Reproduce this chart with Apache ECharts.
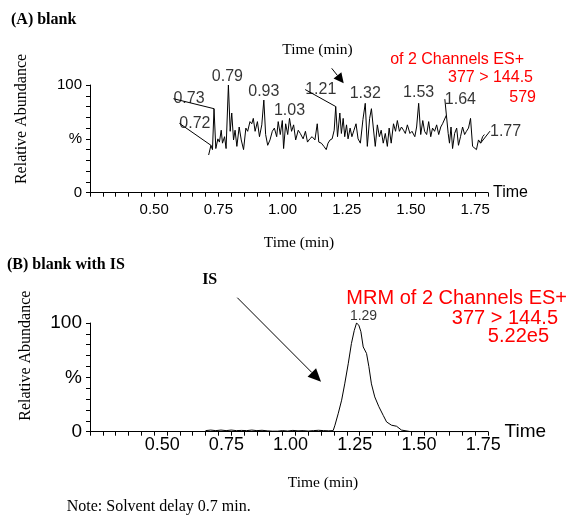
<!DOCTYPE html>
<html><head><meta charset="utf-8">
<script src="https://cdn.jsdelivr.net/npm/echarts@6/dist/echarts.min.js"></script>
<style>html,body{margin:0;padding:0;background:#fff}#c{width:571px;height:516px}</style>
</head><body><div id="c"></div>
<script>
// ---- Panel A: blank (noise trace) ----
const timesA = [
0.712,0.721,0.727,0.733,0.740,0.748,0.754,0.761,0.766,0.774,0.780,0.789,0.796,0.802,0.809,0.815,0.822,0.831,0.839,0.848,
0.857,0.864,0.873,0.880,0.886,0.893,0.902,0.910,0.919,0.927,0.934,0.942,0.951,0.960,0.968,0.977,0.983,0.991,0.999,1.004,
1.012,1.020,1.027,1.035,1.043,1.051,1.061,1.069,
1.080,1.089,1.097,1.106,1.115,1.126,1.135,1.141,1.151,1.161,1.170,1.177,1.185,1.193,1.201,1.207,1.214,1.223,1.229,1.236,
1.242,1.249,1.255,1.263,1.270,1.278,1.286,1.294,1.303,1.313,1.322,1.330,1.339,1.346,1.353,1.361,1.369,1.377,1.384,1.392,
1.400,1.408,1.415,1.423,
1.432,1.440,1.447,1.455,1.463,1.471,1.478,1.486,1.496,1.504,1.515,1.522,1.530,1.538,1.546,1.553,1.561,1.569,1.577,1.584,
1.592,1.600,1.608,1.616,1.623,1.638,1.645,1.650,1.656,1.662,1.670,1.678,1.685,1.693,1.701,1.709,1.716,1.724,1.732,1.740,
1.747,1.755,1.763,1.771,1.779,1.786];
const valuesA = [
35,44,40,78,41,50,47,58,46,52,41,100,57,74,49,58,43,61,49,40,
60,57,66,64,69,57,66,52,63,86,54,44,49,57,60,52,66,54,67,41,
64,54,69,57,63,49,58,55,
50,57,47,50,52,49,64,47,46,43,40,46,49,50,58,80,52,74,55,69,
52,63,50,60,52,58,64,50,46,68,83,43,69,78,61,43,63,52,58,46,
55,43,60,46,
64,57,67,57,61,58,55,63,55,57,52,61,83,54,67,57,54,66,52,60,
57,63,54,61,64,72,55,46,61,41,55,60,44,52,61,54,57,60,69,43,
44,40,49,46,52,54];
const peakTimesA = [0.721,0.733,0.789,0.927,1.027,1.207,1.322,1.530,1.638,1.771];

// ---- Panel B: blank with IS ----
const timesB = [
0.70,0.72,0.74,0.76,0.78,0.80,0.82,0.84,0.86,0.88,0.90,0.92,0.94,0.96,0.98,1.00,1.02,1.04,1.06,1.08,
1.10,1.12,1.14,1.16,1.180,1.197,1.204,1.217,1.230,1.242,1.256,1.268,1.279,1.288,1.297,1.305,1.314,1.327,1.336,1.346,
1.359,1.375,1.392,1.405,1.424,1.444,1.463,1.470,1.50,1.55,1.60,1.65,1.70,1.75,1.79];
const valuesB = [
1,1.5,1,1.5,1,1.5,1,1.2,1,1.5,1,1.3,0.8,0.5,0.5,1,0.6,1.2,0.8,1,
0.6,1,1.3,1,0.8,1,6,17,29,44,63,81,93,100,98,92,78,72,60,44,
32,23,15,9,6,5,1.5,0.3,0,0,0,0,0,0,0];
const peakTimesB = [1.288];

const xTickLabels = ['0.50','0.75','1.00','1.25','1.50','1.75'];
const yTickLabels = {0:'0', 50:'%', 100:'100'};

// ---- styling / layout ----
const SANS = 'Liberation Sans, Arial, sans-serif';
const SERIF = 'Liberation Serif, Times New Roman, serif';
const labelOffsA = [
  {dx:-16,dy:-14,line:true},{dx:-25,dy:-2,line:true},{dx:-1,dy:0},{dx:0,dy:0},{dx:0,dy:0},
  {dx:-15,dy:-9,line:true},{dx:0,dy:-2},{dx:0,dy:-3},{dx:14,dy:-8,line:true},{dx:25,dy:-4,line:true}];
const labelOffsB = [{dx:7,dy:0}];

function pairs(ts, vs){ return ts.map((t,i)=>[t, vs[i]]); }
function peakData(ts, vs, pk, offs){
  return pk.map((t,k)=>{ const i = ts.indexOf(t); return {value:[ts[i], vs[i]], labelLine:{show:!!offs[k].line}}; });
}
function xAxisCfg(gi, fs, pad, margin, nameGap){
  return {type:'value', gridIndex:gi, min:0.25, max:1.80, interval:0.05,
    axisLine:{show:true, onZero:false, lineStyle:{color:'#000', width:1}},
    axisTick:{show:true, length:4, lineStyle:{color:'#000'}},
    splitLine:{show:false},
    axisLabel:{show:true, margin:margin, color:'#000', fontFamily:SANS, fontSize:fs, padding:pad, hideOverlap:false,
      showMinLabel:true, showMaxLabel:true,
      formatter:v=>{ const s=(Math.round(v*100)/100).toFixed(2); return xTickLabels.indexOf(s)>=0 ? s : ''; }},
    name:'Time', nameLocation:'end', nameGap:nameGap,
    nameTextStyle:{color:'#000', fontFamily:SANS, fontSize:fs+1, verticalAlign:'middle', align:'left'}};
}
function yAxisCfg(gi, fs){
  return {type:'value', gridIndex:gi, min:0, max:100, interval:10,
    axisLine:{show:true, lineStyle:{color:'#000', width:1}},
    axisTick:{show:true, length:4, lineStyle:{color:'#000'}},
    splitLine:{show:false},
    axisLabel:{show:true, margin:8, color:'#000', fontFamily:SANS, fontSize:fs,
      formatter:v=>{ const r=Math.round(v); return yTickLabels[r] !== undefined ? yTickLabels[r] : ''; }}};
}
function txt(x,y,text,font,opts){
  opts = opts || {};
  return {type:'text', x:x, y:y, rotation:opts.rot||0, silent:true,
    style:{x:0,y:0,text:text, font:font, fill:opts.fill||'#000',
      textAlign:opts.align||'left', align:opts.align||'left',
      textVerticalAlign:'middle', verticalAlign:'middle'}};
}
function arrow(x1,y1,x2,y2,hl,hw,lw){
  const dx=x2-x1, dy=y2-y1, L=Math.hypot(dx,dy), ux=dx/L, uy=dy/L;
  const bx=x2-ux*hl, by=y2-uy*hl;
  return [
    {type:'line', silent:true, shape:{x1:x1,y1:y1,x2:bx,y2:by}, style:{stroke:'#000', lineWidth:lw}},
    {type:'polygon', silent:true, shape:{points:[[x2,y2],[bx-uy*hw,by+ux*hw],[bx+uy*hw,by-ux*hw]]}, style:{fill:'#000'}}
  ];
}

const chart = echarts.init(document.getElementById('c'), null, {renderer:'canvas'});
const option = {
  animation:false,
  backgroundColor:'#fff',
  grid:[
    {left:90, top:85, width:398, height:107.7, containLabel:false, outerBoundsMode:'none'},
    {left:90, top:323, width:398, height:108.7, containLabel:false, outerBoundsMode:'none'}
  ],
  xAxis:[ xAxisCfg(0, 15, [0,0,0,0], 10, 5), xAxisCfg(1, 18, [0,0,0,16], 4, 12) ],
  yAxis:[ yAxisCfg(0, 15), yAxisCfg(1, 19) ],
  series:[
    {type:'line', xAxisIndex:0, yAxisIndex:0, data:pairs(timesA, valuesA), showSymbol:false, symbol:'none',
      lineStyle:{color:'#000', width:1}, silent:true, z:2},
    {type:'scatter', xAxisIndex:0, yAxisIndex:0, data:peakData(timesA, valuesA, peakTimesA, labelOffsA),
      symbolSize:0, itemStyle:{color:'rgba(0,0,0,0)'}, silent:true, z:3,
      label:{show:true, position:'top', distance:0, color:'#000', fontFamily:SANS, fontSize:16,
        formatter:p=>p.value[0].toFixed(2)},
      labelLine:{show:false, length2:0, lineStyle:{color:'#000', width:1}},
      labelLayout:p=>({dx:labelOffsA[p.dataIndex].dx, dy:labelOffsA[p.dataIndex].dy})},
    {type:'line', xAxisIndex:1, yAxisIndex:1, data:pairs(timesB, valuesB), showSymbol:false, symbol:'none',
      lineStyle:{color:'#000', width:1}, silent:true, z:2},
    {type:'scatter', xAxisIndex:1, yAxisIndex:1, data:peakData(timesB, valuesB, peakTimesB, labelOffsB),
      symbolSize:0, itemStyle:{color:'rgba(0,0,0,0)'}, silent:true, z:3,
      label:{show:true, position:'top', distance:0, color:'#000', fontFamily:SANS, fontSize:14,
        formatter:p=>p.value[0].toFixed(2)},
      labelLayout:p=>({dx:labelOffsB[p.dataIndex].dx, dy:labelOffsB[p.dataIndex].dy})}
  ],
  graphic:{elements:[
    txt(11,19.5,'(A) blank','bold 16px '+SERIF),
    txt(317.5,50,'Time (min)','15.5px '+SERIF,{align:'center'}),
    txt(21.5,119,'Relative Abundance','16px '+SERIF,{align:'center',rot:Math.PI/2}),
    txt(299,243,'Time (min)','15.5px '+SERIF,{align:'center'}),
    txt(524,59.3,'of 2 Channels ES+','16px '+SANS,{align:'right',fill:'#ff0000'}),
    txt(533,77.7,'377 > 144.5','16px '+SANS,{align:'right',fill:'#ff0000'}),
    txt(536,97.3,'579','16px '+SANS,{align:'right',fill:'#ff0000'}),
    ...arrow(331.7,68.3,343.7,83.3,10,5,1),
    txt(7,265,'(B) blank with IS','bold 16px '+SERIF),
    txt(209.7,280,'IS','bold 16px '+SERIF,{align:'center'}),
    txt(26,355.7,'Relative Abundance','16px '+SERIF,{align:'center',rot:Math.PI/2}),
    txt(323,483,'Time (min)','15.5px '+SERIF,{align:'center'}),
    txt(567,298,'MRM of 2 Channels ES+','20px '+SANS,{align:'right',fill:'#ff0000'}),
    txt(558,318.3,'377 > 144.5','20px '+SANS,{align:'right',fill:'#ff0000'}),
    txt(549,336,'5.22e5','20px '+SANS,{align:'right',fill:'#ff0000'}),
    ...arrow(237.3,297.7,321,381.7,13,6,1),
    txt(66.7,507,'Note: Solvent delay 0.7 min.','16px '+SERIF)
  ]}
};
chart.setOption(option);
</script>
</body></html>
